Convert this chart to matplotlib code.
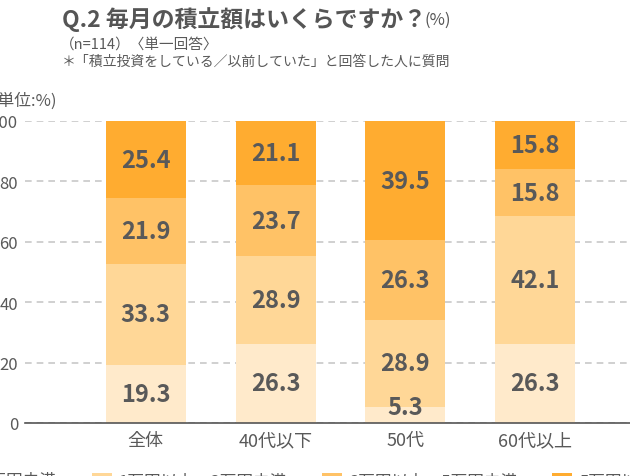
import matplotlib
matplotlib.use("Agg")
import matplotlib.pyplot as plt
import numpy as np

plt.rcParams['font.family'] = ['Noto Sans CJK JP', 'DejaVu Sans']

# data
groups = ['全体', '40代以下', '50代', '60代以上']
labels = ['1万円未満', '1万円以上～3万円未満', '3万円以上～5万円未満', '5万円以上']
under1 = [19.3, 26.3, 5.3, 26.3]
m1to3 = [33.3, 28.9, 28.9, 42.1]
m3to5 = [21.9, 23.7, 26.3, 15.8]
over5 = [25.4, 21.1, 39.5, 15.8]
series = [under1, m1to3, m3to5, over5]
colors = ['#FFEACB', '#FFD797', '#FFC266', '#FFAC30']

txt = '#595959'

fig = plt.figure(figsize=(6.30, 4.77), dpi=100)
ax = fig.add_axes([25 / 630, 53 / 477, 631 / 630, 302 / 477])

x = np.arange(len(groups))
bottom = np.zeros(len(groups))
for vals, col, lab in zip(series, colors, labels):
    vals = np.array(vals)
    ax.bar(x, vals, 0.615, bottom=bottom, color=col, label=lab, zorder=2)
    for xi, b, v in zip(x, bottom, vals):
        y = b + v / 2
        if v < 8:
            y = b + v / 2 + 2.5
        ax.text(xi, y, f'{v:.1f}', ha='center', va='center',
                fontsize=17, fontweight='bold', color=txt, zorder=3)
    bottom += vals

ax.set_xlim(-0.93, 3.93)
ax.set_ylim(0, 100)
ax.set_yticks([0, 20, 40, 60, 80, 100])
ax.set_xticks(x)
ax.set_xticklabels(groups)
ax.tick_params(axis='both', length=0, colors=txt, labelsize=12)
ax.tick_params(axis='x', pad=6, labelsize=13)
ax.tick_params(axis='y', pad=5)
for s in ['top', 'right', 'left']:
    ax.spines[s].set_visible(False)
ax.spines['bottom'].set_color('#555555')
ax.spines['bottom'].set_linewidth(1.2)
ax.yaxis.grid(True, color='#C8C8C8', linestyle=(0, (4, 3)), linewidth=1.2, zorder=0)
ax.set_axisbelow(True)

title = fig.text(62 / 630, 1 - 20 / 477, 'Q.2 毎月の積立額はいくらですか？', fontsize=16.5,
                 fontweight='bold', color='#555555', va='center', ha='left')
fig.canvas.draw()
bb = title.get_window_extent()
fig.text(bb.x1 / 630 - 2 / 630, 1 - 20 / 477, '(%)', fontsize=12, color='#555555',
         va='center', ha='left')
fig.text(60 / 630, 1 - 45 / 477, '（n=114）〈単一回答〉', fontsize=10.5,
         color=txt, va='center', ha='left')
fig.text(62 / 630, 1 - 62 / 477, '＊「積立投資をしている／以前していた」と回答した人に質問',
         fontsize=10, color=txt, va='center', ha='left')
fig.text(57 / 630, 1 - 101 / 477, '(単位:%)', fontsize=12, color=txt,
         va='center', ha='right')

fig.legend(loc='upper left', bbox_to_anchor=(-46 / 630, 4 / 477), ncol=4,
           frameon=False, fontsize=12, handlelength=1.2, handleheight=0.7,
           handletextpad=0.42, columnspacing=2.1, borderpad=0, borderaxespad=0,
           labelcolor=txt)

fig.savefig('out.png', dpi=100)
